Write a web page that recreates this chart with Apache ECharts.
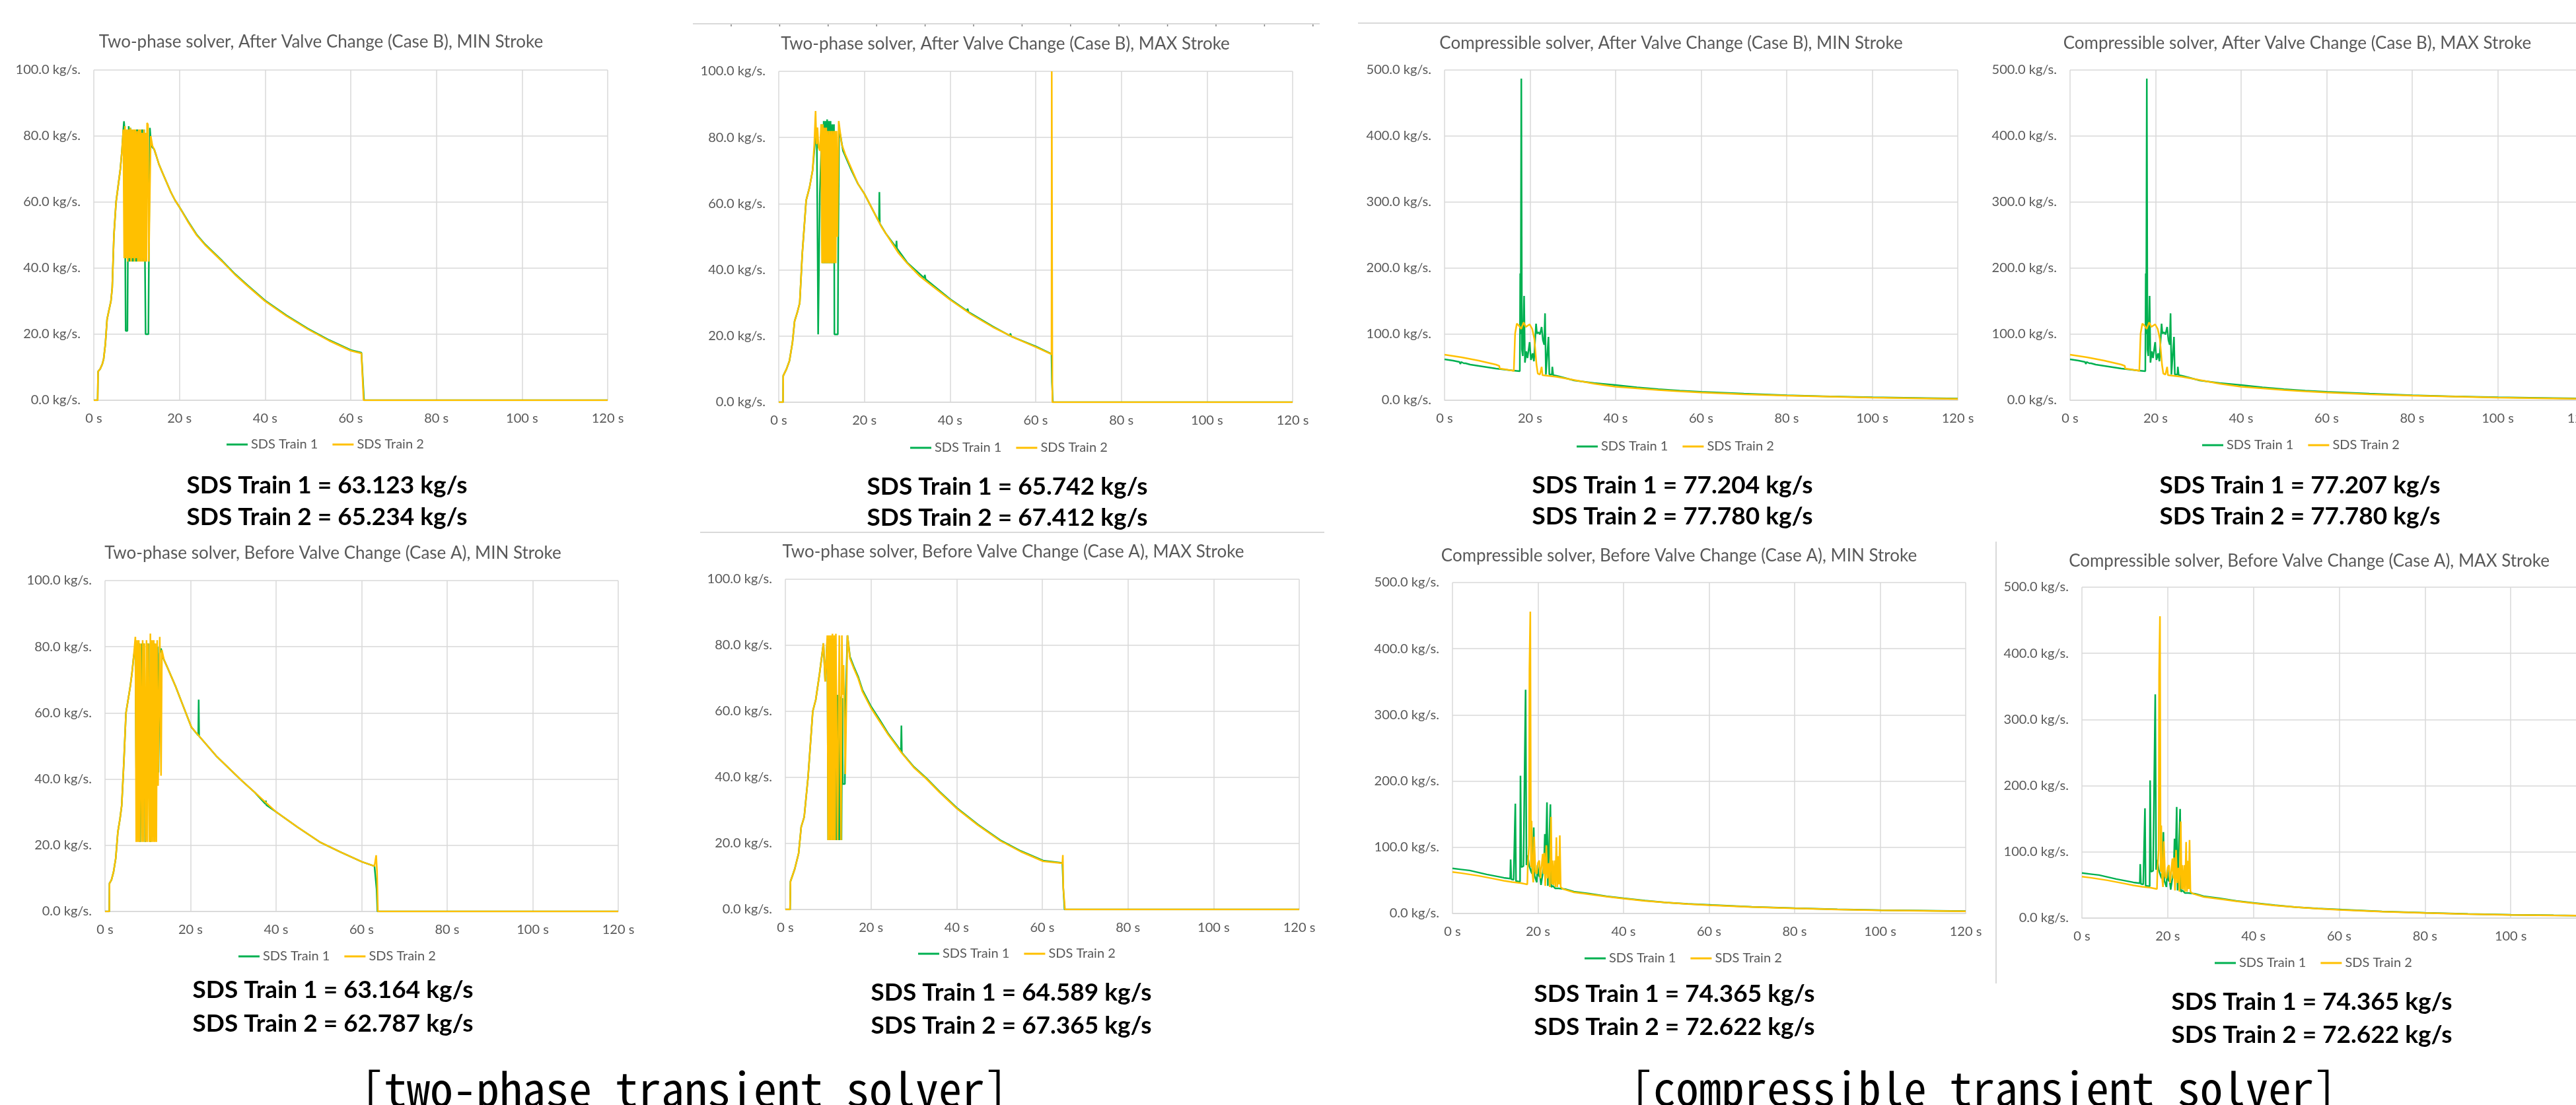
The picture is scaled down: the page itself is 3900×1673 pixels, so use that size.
<!DOCTYPE html>
<html><head><meta charset="utf-8">
<script src="https://cdn.jsdelivr.net/npm/echarts@6/dist/echarts.min.js"></script>
<style>html,body{margin:0;padding:0;background:#fff}#c{width:3900px;height:1673px}</style>
</head><body><div id="c"></div>
<script>
// ---------- DATA ([time s, mass flow kg/s]) ----------
const tpBMinTrain1 = [[0,0],[0.9,0],[1.0,8.7],[1.5,9.5],[2.0,11],[2.3,12.5],[2.7,17],[3.1,24.5],[3.5,27],[4.0,30],[4.3,34],[4.7,50],[5.2,60],[5.7,65],[6.2,70],[6.6,76],[6.9,82],[7.05,84.5],[7.2,82],[7.35,42],[7.45,21],[7.85,21],[7.95,42],[8.15,83],[8.35,42],[8.55,82.5],[8.75,42],[8.95,82],[9.15,42],[9.35,82],[9.55,42],[9.75,82],[9.95,42],[10.15,82],[10.35,42],[10.55,82],[10.75,42],[10.95,82],[11.15,42],[11.35,82],[11.55,42],[11.75,82],[11.95,42],[12.1,20],[12.75,20],[12.9,50],[13.1,82.5],[13.4,77],[14.1,76],[14.6,74],[15.2,71.5],[16,69],[17,66],[18,63],[19,60.5],[20,58.5],[22,54.2],[24,50.2],[26,47.2],[28,44.7],[30,42.2],[33,38.2],[36,34.7],[40,30.2],[45,25.7],[50,21.7],[55,18.2],[60,15.2],[62.5,14.4],[63.1,0],[120,0]];
const tpBMinTrain2 = [[0,0],[0.9,0],[1.0,8.7],[1.5,9.5],[2.0,11],[2.3,12.5],[2.7,17],[3.1,24.5],[3.5,27],[4.0,30],[4.3,34],[4.7,50],[5.2,60],[5.7,65],[6.2,70],[6.6,76],[6.9,82],[7.1,43],[7.3,83],[7.5,43],[7.7,82],[7.9,42],[8.1,82],[8.3,43],[8.5,82.5],[8.7,42],[8.9,82],[9.1,43],[9.3,82],[9.5,42],[9.7,82],[9.9,43],[10.1,81.5],[10.3,42],[10.5,82],[10.7,42],[10.9,82],[11.1,42],[11.3,81],[11.5,42],[11.7,82],[11.9,42],[12.1,81],[12.3,42],[12.45,84],[12.65,83.5],[12.85,42],[13.05,60],[13.3,80],[13.7,77],[14.1,76],[14.6,74],[15.2,71.5],[16,69],[17,66],[18,63],[19,60.5],[20,58.5],[22,54],[24,50],[26,47],[28,44.5],[30,42],[33,38],[36,34.5],[40,30],[45,25.5],[50,21.5],[55,18],[60,15],[62.5,14.2],[63,0],[120,0]];

const tpBMaxTrain1 = [[0,0],[1.0,0],[1.05,8],[1.8,10],[2.5,12.5],[3.2,18],[3.7,24.5],[4.3,27],[4.9,30],[5.5,45],[6.4,61],[7.2,65],[7.9,70],[8.3,76],[8.6,80],[8.9,78],[9.1,42],[9.2,20.5],[9.5,20.5],[9.6,63],[9.9,75],[10.1,84],[10.3,42],[10.5,85],[10.7,42],[10.9,85],[11.1,42],[11.3,85.5],[11.5,42],[11.7,85],[11.9,42],[12.1,85],[12.3,42],[12.5,84],[12.7,42],[12.9,84],[13.0,20.5],[13.8,20.5],[13.9,50],[14.1,82.5],[14.5,80],[15,76],[16,73],[17,70],[18.5,66],[20,63],[22,58],[23.4,54.5],[23.5,63.5],[23.6,54],[25,51],[27.4,46.8],[27.5,48.8],[27.6,46.5],[30,42.2],[34,37.5],[34.1,38.5],[34.3,37.2],[40,31.2],[44,27.6],[44.1,28.3],[44.3,27.3],[50,22.9],[54,20.1],[54.1,20.8],[54.3,19.9],[60,16.9],[63.7,14.6],[63.8,6],[64.0,0],[120,0]];
const tpBMaxTrain2 = [[0,0],[1.0,0],[1.05,8],[1.8,10],[2.5,12.5],[3.2,18],[3.7,24.5],[4.3,27],[4.9,30],[5.5,45],[6.4,61],[7.2,65],[7.9,70],[8.3,78],[8.6,88],[8.8,78],[9.05,83],[9.3,77],[9.6,76],[9.9,84],[10.1,42],[10.3,84],[10.5,42],[10.7,83],[10.9,42],[11.1,83],[11.3,42],[11.5,82],[11.7,42],[11.9,82],[12.1,42],[12.3,82],[12.5,42],[12.7,82],[12.9,42],[13.1,82],[13.3,42],[13.5,82],[13.7,50],[14.0,85],[14.3,82],[14.7,78],[15.5,75],[16.5,72],[17.5,69],[18.5,66],[20,63],[22,58],[24,53],[26,49],[28,45],[30,42],[33,38],[36,35],[40,31],[45,26.5],[50,22.7],[55,19.5],[60,16.7],[63.7,14.5],[63.75,100],[63.9,0],[120,0]];

const cBMinTrain1 = [[0,62],[2,60],[3.5,58],[3.7,55],[3.9,58],[4.5,56],[4.7,54],[4.9,56],[6,54],[8,52],[10,50],[12,48],[14,46.5],[16,45],[17.6,44],[17.7,192],[17.8,100],[17.95,487],[18.1,77],[18.3,67],[18.6,158],[18.8,57],[19.1,74],[19.4,64],[19.9,88],[20.2,61],[20.6,71],[20.9,59],[21.2,60],[21.4,116],[21.6,101],[22.0,103],[22.3,99.5],[22.7,111],[23.0,91],[23.3,84],[23.5,131.6],[23.7,39],[24.0,40],[24.3,96],[24.5,39],[25.1,39],[25.2,50.6],[25.4,38],[26.2,37],[28,34],[30.3,30],[35,26],[40,23],[45,19.5],[50,16.8],[55,14.5],[60,12.8],[70,10],[80,7.5],[90,5.8],[100,4.5],[110,3.5],[120,2.5]];
const cBMinTrain2 = [[0,69],[2,67],[4,65],[6,62.5],[8,60],[10,57],[12,54],[12.8,52],[12.9,48],[14,47],[16.2,44.5],[16.5,101],[16.9,116],[17.4,113],[17.9,108],[18.5,118],[19,111],[19.9,115],[20.5,108],[21,93],[21.5,54],[21.8,40.5],[22.3,39],[22.7,50.6],[22.9,38],[26.2,35.4],[30,31],[35,25],[40,20.5],[45,18],[50,15.5],[55,13.5],[60,11.8],[70,9],[80,7],[90,5.5],[100,4],[110,3],[120,2]];
const cBMaxTrain1 = [[0,62],[2,60],[3.5,58],[3.7,55],[3.9,58],[4.5,56],[4.7,54],[4.9,56],[6,54],[8,52],[10,50],[12,48],[14,46.5],[16,45],[17.6,44],[17.7,192],[17.8,100],[17.95,487],[18.1,77],[18.3,67],[18.6,158],[18.8,57],[19.1,74],[19.4,64],[19.9,88],[20.2,61],[20.6,71],[20.9,59],[21.2,60],[21.4,116],[21.6,101],[22.0,103],[22.3,99.5],[22.7,111],[23.0,91],[23.3,84],[23.5,131.6],[23.7,39],[24.0,40],[24.3,96],[24.5,39],[25.1,39],[25.2,50.6],[25.4,38],[26.2,37],[28,34],[30.3,30],[35,26],[40,23],[45,19.5],[50,16.8],[55,14.5],[60,12.8],[70,10],[80,7.5],[90,5.8],[100,4.5],[110,3.5],[120,2.5]];
const cBMaxTrain2 = [[0,69],[2,67],[4,65],[6,62.5],[8,60],[10,57],[12,54],[12.8,52],[12.9,48],[14,47],[16.2,44.5],[16.5,101],[16.9,116],[17.4,113],[17.9,108],[18.5,118],[19,111],[19.9,115],[20.5,108],[21,93],[21.5,54],[21.8,40.5],[22.3,39],[22.7,50.6],[22.9,38],[26.2,35.4],[30,31],[35,25],[40,20.5],[45,18],[50,15.5],[55,13.5],[60,11.8],[70,9],[80,7],[90,5.5],[100,4],[110,3],[120,2]];

const tpAMinTrain1 = [[0,0],[1.0,0],[1.05,8.5],[1.5,9.5],[2.0,12],[2.5,16],[3.0,24],[3.5,28],[3.9,32],[4.4,45],[4.9,60],[5.4,64],[5.9,68],[6.3,72],[6.7,77],[7.1,80],[7.3,42],[7.5,81],[7.7,42],[8.0,81],[8.2,21],[8.45,42],[8.7,81],[8.9,42],[9.1,81],[9.4,21],[9.6,42],[9.8,81],[10.0,42],[10.2,81],[10.4,42],[10.6,21],[10.8,42],[11.0,81],[11.2,42],[11.5,81],[11.7,42],[11.9,80],[12.1,42],[12.3,80],[12.5,42],[12.8,78],[13.1,79.5],[13.5,77],[13.8,76],[14.5,74],[15.5,71],[16.5,68],[18,63],[20.2,55.7],[21.8,53.2],[21.9,64],[22.0,53],[24,50],[26,47],[29.6,42.5],[32,39.5],[35,36],[37.5,32.5],[37.6,33.5],[37.7,32.2],[39.9,30.2],[45,25.5],[50.2,21],[55,18],[60.1,15],[63,13.7],[63.5,6.8],[63.7,0],[120,0]];
const tpAMinTrain2 = [[0,0],[1.0,0],[1.05,8.5],[1.5,9.5],[2.0,12],[2.5,16],[3.0,24],[3.5,28],[3.9,32],[4.4,45],[4.9,60],[5.4,64],[5.9,68],[6.3,72],[6.7,77],[7.1,83],[7.3,21],[7.5,82],[7.7,21],[7.9,82],[8.1,21],[8.3,81],[8.6,21],[8.8,82],[9.0,21],[9.2,81],[9.5,21],[9.7,82],[9.9,21],[10.1,81],[10.4,21],[10.6,84],[10.8,21],[11.0,82],[11.2,21],[11.4,82],[11.6,21],[11.8,81],[12.0,21],[12.2,82],[12.4,38],[12.8,83],[13.1,41],[13.3,79],[13.8,76],[14.5,74],[15.5,71],[16.5,68],[18,63],[20.2,55.7],[22,53],[24,50],[26,47],[29.6,42.5],[32,39.5],[35,36],[39.9,30.2],[45,25.5],[50.2,21],[55,18],[60.1,15],[63,13.7],[63.4,17],[63.6,12],[63.8,0],[120,0]];

const tpAMaxTrain1 = [[0,0],[1.1,0],[1.2,8.5],[2.2,12.3],[3.1,17],[3.7,25],[4.4,28],[5.3,40],[6.4,60],[7.1,63.5],[8.0,71.5],[8.9,80.6],[9.3,69],[9.6,69],[9.8,82],[10.0,21],[10.2,82],[10.4,21],[10.6,82],[10.8,21],[11.0,82],[11.2,21],[11.4,82],[11.6,21],[11.7,65],[11.9,21],[12.1,65],[12.3,21],[12.5,65],[12.7,21],[12.9,64.5],[13.1,21],[13.3,64],[13.4,38],[13.9,38],[14.0,60],[14.5,83],[15.1,76.5],[16,73.5],[17,70.5],[18,66.5],[20,61.5],[22,57.5],[24,53.3],[26,49.8],[27.0,48],[27.1,55.7],[27.2,47.5],[30,43.2],[32.9,39.8],[36,35.7],[40.1,30.7],[45,25.7],[50.2,21],[55,17.7],[60.2,14.8],[64.7,14.1],[64.9,6.6],[65.2,0],[120,0]];
const tpAMaxTrain2 = [[0,0],[1.1,0],[1.2,8.5],[2.2,12.3],[3.1,17],[3.7,25],[4.4,28],[5.3,40],[6.4,60],[7.1,63.5],[8.0,71.5],[8.9,80.6],[9.3,69],[9.6,69],[9.8,83],[10.0,21],[10.2,83],[10.4,21],[10.6,83],[10.8,21],[11.0,83.5],[11.2,21],[11.4,83],[11.6,21],[11.8,83.5],[12.2,21],[12.6,83],[13.0,21],[13.2,83],[13.4,65],[13.6,74],[13.9,74],[14.0,41],[14.5,83],[15.1,76],[16,73],[17,70],[18,66],[20,61],[22,57],[24,53],[26,49.5],[27.1,47.5],[30,43],[32.9,39.6],[36,35.5],[40.1,30.5],[45,25.5],[50.2,20.8],[55,17.5],[60.2,14.6],[64.7,14],[64.8,16.5],[64.9,6.6],[65.3,0],[120,0]];

const cAMinTrain1 = [[0,68],[2,66.5],[4,65],[6,62],[8,59],[10,56.5],[12,54],[13.5,52.6],[13.6,81.5],[13.75,51.6],[14.3,51],[14.7,166],[14.85,49],[15.8,48],[15.9,208],[16.1,70],[16.6,71.6],[17.1,338],[17.3,73],[17.6,88],[17.9,73],[18.4,63],[18.6,60],[19.0,130],[19.2,57],[19.7,47],[19.9,73],[20.2,57],[20.5,55],[20.7,43],[21.1,60],[21.4,73],[21.6,120],[21.8,73],[22.1,168],[22.3,41.6],[22.6,43],[22.9,165],[23.1,40],[23.5,41.5],[24.0,38],[24.8,38],[26.4,36.6],[28.4,33],[32,30],[36,26],[40,23],[45,19.5],[50,16.5],[55,14.5],[60,13],[70,10],[80,8],[90,6.3],[100,5],[110,4.2],[120,3.5]];
const cAMinTrain2 = [[0,62.6],[2,61],[4,59],[6,57],[8,54.5],[10,52],[12,49.5],[14,47.5],[16,46],[17.5,44],[17.6,70],[17.9,103],[18.0,369],[18.2,456],[18.35,70],[18.5,140],[18.7,60],[18.9,47],[19.1,116],[19.4,63],[19.7,60],[20.0,76.6],[20.3,80],[20.55,53],[20.85,73],[21.1,90],[21.3,60],[21.45,91.5],[21.7,41.6],[21.95,103],[22.2,53],[22.5,76],[22.75,40],[23.05,146],[23.25,44],[23.4,80],[23.6,43],[23.9,80],[24.05,40],[24.3,115],[24.5,40],[24.7,86.5],[24.9,44],[25.1,118],[25.3,40],[25.8,37],[28.4,32],[32,29],[36,25.5],[40,22.5],[45,19],[50,16.5],[55,14.2],[60,12.5],[70,9.8],[80,7.8],[90,6],[100,4.8],[110,4],[120,3.3]];
const cAMaxTrain1 = [[0,68],[2,66.5],[4,65],[6,62],[8,59],[10,56.5],[12,54],[13.5,52.6],[13.6,81.5],[13.75,51.6],[14.3,51],[14.7,166],[14.85,49],[15.8,48],[15.9,208],[16.1,70],[16.6,71.6],[17.1,338],[17.3,73],[17.6,88],[17.9,73],[18.4,63],[18.6,60],[19.0,130],[19.2,57],[19.7,47],[19.9,73],[20.2,57],[20.5,55],[20.7,43],[21.1,60],[21.4,73],[21.6,120],[21.8,73],[22.1,168],[22.3,41.6],[22.6,43],[22.9,165],[23.1,40],[23.5,41.5],[24.0,38],[24.8,38],[26.4,36.6],[28.4,33],[32,30],[36,26],[40,23],[45,19.5],[50,16.5],[55,14.5],[60,13],[70,10],[80,8],[90,6.3],[100,5],[110,4.2],[120,3.5]];
const cAMaxTrain2 = [[0,62.6],[2,61],[4,59],[6,57],[8,54.5],[10,52],[12,49.5],[14,47.5],[16,46],[17.5,44],[17.6,70],[17.9,103],[18.0,369],[18.2,456],[18.35,70],[18.5,140],[18.7,60],[18.9,47],[19.1,116],[19.4,63],[19.7,60],[20.0,76.6],[20.3,80],[20.55,53],[20.85,73],[21.1,90],[21.3,60],[21.45,91.5],[21.7,41.6],[21.95,103],[22.2,53],[22.5,76],[22.75,40],[23.05,146],[23.25,44],[23.4,80],[23.6,43],[23.9,80],[24.05,40],[24.3,115],[24.5,40],[24.7,86.5],[24.9,44],[25.1,118],[25.3,40],[25.8,37],[28.4,32],[32,29],[36,25.5],[40,22.5],[45,19],[50,16.5],[55,14.2],[60,12.5],[70,9.8],[80,7.8],[90,6],[100,4.8],[110,4],[120,3.3]];

const seriesNames = ['SDS Train 1', 'SDS Train 2'];
const chartTitles = [
  'Two-phase solver, After Valve Change (Case B), MIN Stroke',
  'Two-phase solver, After Valve Change (Case B), MAX Stroke',
  'Compressible solver, After Valve Change (Case B), MIN Stroke',
  'Compressible solver, After Valve Change (Case B), MAX Stroke',
  'Two-phase solver, Before Valve Change (Case A), MIN Stroke',
  'Two-phase solver, Before Valve Change (Case A), MAX Stroke',
  'Compressible solver, Before Valve Change (Case A), MIN Stroke',
  'Compressible solver, Before Valve Change (Case A), MAX Stroke'
];
const summaryTrain1 = ['63.123','65.742','77.204','77.207','63.164','64.589','74.365','74.365'];
const summaryTrain2 = ['65.234','67.412','77.780','77.780','62.787','67.365','72.622','72.622'];
const yMaxes = [100,100,500,500,100,100,500,500];
const yIntervals = [20,20,100,100,20,20,100,100];
const sectionTitles = ['[two-phase transient solver]', '[compressible transient solver]'];
const train1Data = [tpBMinTrain1, tpBMaxTrain1, cBMinTrain1, cBMaxTrain1, tpAMinTrain1, tpAMaxTrain1, cAMinTrain1, cAMaxTrain1];
const train2Data = [tpBMinTrain2, tpBMaxTrain2, cBMinTrain2, cBMaxTrain2, tpAMinTrain2, tpAMaxTrain2, cAMinTrain2, cAMaxTrain2];

// ---------- LAYOUT ----------
const layout = [
  {grid:[142,106,778,500], tc:[486,64], lc:[489,675], vc:[495,735,783]},
  {grid:[1179,108,778,501], tc:[1522,67], lc:[1524,680], vc:[1525,737,784]},
  {grid:[2187,106,777,500], tc:[2530,66], lc:[2533,678], vc:[2532,735,782]},
  {grid:[3134,106,777,500], tc:[3478,66], lc:[3480,676], vc:[3482,735,782]},
  {grid:[159,879,777,501], tc:[504,838], lc:[507,1450], vc:[504,1499,1550]},
  {grid:[1189,877,778,500], tc:[1534,836], lc:[1536,1446], vc:[1531,1503,1553]},
  {grid:[2199,882,777,501], tc:[2542,842], lc:[2545,1453], vc:[2535,1505,1555]},
  {grid:[3152,889,779,501], tc:[3496,850], lc:[3499,1460], vc:[3500,1517,1567]}
];
const GREEN = '#00b050', YELLOW = '#ffc000', GRID = '#d9d9d9', LABEL = '#595959';

const option = {animation:false, backgroundColor:'#ffffff', grid:[], xAxis:[], yAxis:[], series:[], legend:[], graphic:[]};
layout.forEach((L, i) => {
  option.grid.push({left:L.grid[0], top:L.grid[1], width:L.grid[2], height:L.grid[3], containLabel:false, outerBoundsMode:'none'});
  option.xAxis.push({type:'value', gridIndex:i, min:0, max:120, interval:20,
    axisLine:{show:true, onZero:false, lineStyle:{color:GRID, width:1.5}}, axisTick:{show:false},
    axisLabel:{formatter:'{value} s', color:LABEL, fontFamily:'Lato', fontSize:20, margin:18},
    splitLine:{show:true, lineStyle:{color:GRID, width:1.5}}});
  option.yAxis.push({type:'value', gridIndex:i, min:0, max:yMaxes[i], interval:yIntervals[i],
    axisLine:{show:false}, axisTick:{show:false},
    axisLabel:{formatter:v => v.toFixed(1) + ' kg/s.', color:LABEL, fontFamily:'Lato', fontSize:20, margin:20},
    splitLine:{show:true, lineStyle:{color:GRID, width:1.5}}});
  option.series.push({name:seriesNames[0], type:'line', xAxisIndex:i, yAxisIndex:i, data:train1Data[i],
    showSymbol:false, symbol:'none', lineStyle:{color:GREEN, width:2.5}, itemStyle:{color:GREEN}, z:2, silent:true});
  option.series.push({name:seriesNames[1], type:'line', xAxisIndex:i, yAxisIndex:i, data:train2Data[i],
    showSymbol:false, symbol:'none', lineStyle:{color:YELLOW, width:2.5}, itemStyle:{color:YELLOW}, z:3, silent:true});
  option.legend.push({data:seriesNames, left:L.lc[0] - 146, top:L.lc[1] - 12, icon:'rect', itemWidth:32, itemHeight:3,
    itemGap:22, selectedMode:false, padding:0, textStyle:{color:LABEL, fontFamily:'Lato', fontSize:20}});
  option.graphic.push({type:'text', x:L.tc[0], y:L.tc[1], silent:true,
    style:{text:chartTitles[i], fill:LABEL, fontFamily:'Lato', fontSize:26, align:'center', verticalAlign:'middle'}});
  option.graphic.push({type:'text', x:L.vc[0], y:L.vc[1], silent:true,
    style:{text:seriesNames[0] + ' = ' + summaryTrain1[i] + ' kg/s', fill:'#000', fontFamily:'Lato', fontWeight:'bold', fontSize:37, align:'center', verticalAlign:'middle'}});
  option.graphic.push({type:'text', x:L.vc[0], y:L.vc[2], silent:true,
    style:{text:seriesNames[1] + ' = ' + summaryTrain2[i] + ' kg/s', fill:'#000', fontFamily:'Lato', fontWeight:'bold', fontSize:37, align:'center', verticalAlign:'middle'}});
});
// separators
const sepLines = [[1049,36,1998,36],[2056,35,3900,35],[1060,806,2005,806],[3022,820,3022,1489]];
sepLines.forEach(s => option.graphic.push({type:'line', silent:true, shape:{x1:s[0],y1:s[1],x2:s[2],y2:s[3]}, style:{stroke:GRID, lineWidth:2}}));
for (let k = 0; k < 13; k++) {
  const x = 1107 + k * 73.4;
  option.graphic.push({type:'line', silent:true, shape:{x1:x,y1:37,x2:x,y2:40}, style:{stroke:'#808080', lineWidth:1.5}});
}
// section titles
option.graphic.push({type:'text', x:1036, y:1648, silent:true,
  style:{text:sectionTitles[0], fill:'#000', fontFamily:'"Noto Sans Mono CJK JP","Noto Sans CJK JP",sans-serif', fontSize:70, align:'center', verticalAlign:'middle'}});
option.graphic.push({type:'text', x:3003, y:1648, silent:true,
  style:{text:sectionTitles[1], fill:'#000', fontFamily:'"Noto Sans Mono CJK JP","Noto Sans CJK JP",sans-serif', fontSize:69, align:'center', verticalAlign:'middle'}});

const chart = echarts.init(document.getElementById('c'), null, {renderer:'canvas', width:3900, height:1673});
chart.setOption(option);
</script></body></html>
